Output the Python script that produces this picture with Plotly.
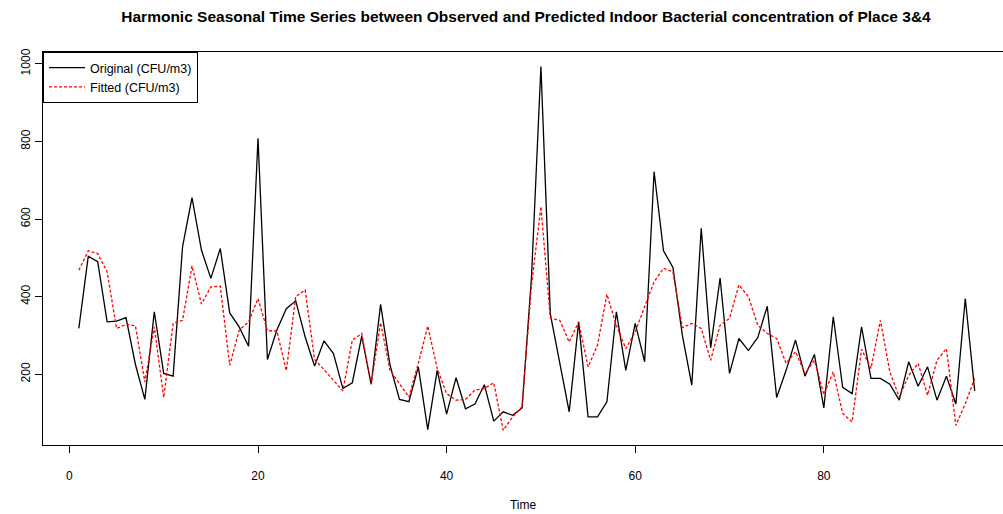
import plotly.graph_objects as go

time = list(range(1, 97))

original = [318, 504, 490, 335, 337, 346, 225, 135, 361, 202,
            195, 529, 655, 520, 447, 524, 358, 322, 272, 808,
            238, 314, 369, 389, 296, 221, 286, 253, 163, 178,
            298, 174, 380, 223, 135, 129, 219, 57, 210, 97,
            191, 111, 123, 173, 79, 103, 94, 113, 450, 993,
            355, 232, 103, 335, 90, 90, 129, 361, 210, 331,
            232, 722, 518, 475, 300, 172, 576, 268, 448, 202,
            292, 261, 295, 375, 140, 210, 288, 195, 251, 113,
            348, 166, 150, 322, 189, 189, 174, 133, 232, 169,
            219, 133, 195, 123, 395, 157]

fitted = [468, 518, 511, 464, 318, 328, 325, 180, 322, 140,
          331, 339, 479, 381, 425, 427, 223, 313, 335, 395,
          312, 312, 209, 400, 417, 238, 212, 185, 157, 288,
          305, 175, 333, 210, 176, 141, 228, 324, 215, 150,
          133, 135, 159, 163, 178, 55, 90, 116, 430, 632,
          344, 339, 283, 335, 219, 275, 406, 326, 266, 309,
          374, 438, 473, 464, 320, 331, 318, 236, 326, 344,
          430, 400, 326, 305, 292, 228, 258, 202, 236, 148,
          206, 99, 77, 264, 215, 339, 206, 141, 197, 228,
          146, 236, 266, 68, 124, 189]

x_ticks = [0, 20, 40, 60, 80]
y_ticks = [200, 400, 600, 800, 1000]

FONT = "Liberation Sans, Arial, sans-serif"

fig = go.Figure()
fig.add_trace(go.Scatter(x=time, y=original, mode="lines", name="Original (CFU/m3)",
                         line=dict(color="black", width=1.3)))
fig.add_trace(go.Scatter(x=time, y=fitted, mode="lines", name="Fitted (CFU/m3)",
                         line=dict(color="red", width=1.3, dash="3px,2px")))

fig.update_layout(
    width=1003, height=514,
    margin=dict(l=43, r=0, t=52, b=69),
    paper_bgcolor="white", plot_bgcolor="white",
    font=dict(family=FONT, size=12, color="black"),
    title=dict(text="<b>Harmonic Seasonal Time Series between Observed and Predicted Indoor Bacterial concentration of Place 3&4</b>",
               x=526 / 1003, xanchor="center", xref="container",
               y=1 - 17 / 514, yanchor="middle", yref="container",
               font=dict(family=FONT, size=15.5, color="black")),
    showlegend=True,
    legend=dict(x=0, y=1, xanchor="left", yanchor="top",
                bordercolor="black", borderwidth=1, bgcolor="white",
                font=dict(family=FONT, size=12.5, color="black"),
                tracegroupgap=0, itemwidth=36),
    xaxis=dict(range=[-2.8, 99.0], tickvals=x_ticks, ticktext=[str(v) for v in x_ticks],
               ticks="outside", ticklen=7, tickcolor="black", tickwidth=1,
               showgrid=False, zeroline=False, showline=True, linecolor="black",
               linewidth=1, mirror=True, ticklabelstandoff=13,
               title=dict(text="Time", standoff=18, font=dict(family=FONT, size=12))),
    yaxis=dict(range=[17.5, 1030.5], tickvals=y_ticks, ticktext=[str(v) for v in y_ticks],
               ticks="outside", ticklen=7, tickcolor="black", tickwidth=1,
               tickangle=-90, showgrid=False, zeroline=False, showline=True,
               linecolor="black", linewidth=1, mirror=False),
)

fig.write_html("out.html")
